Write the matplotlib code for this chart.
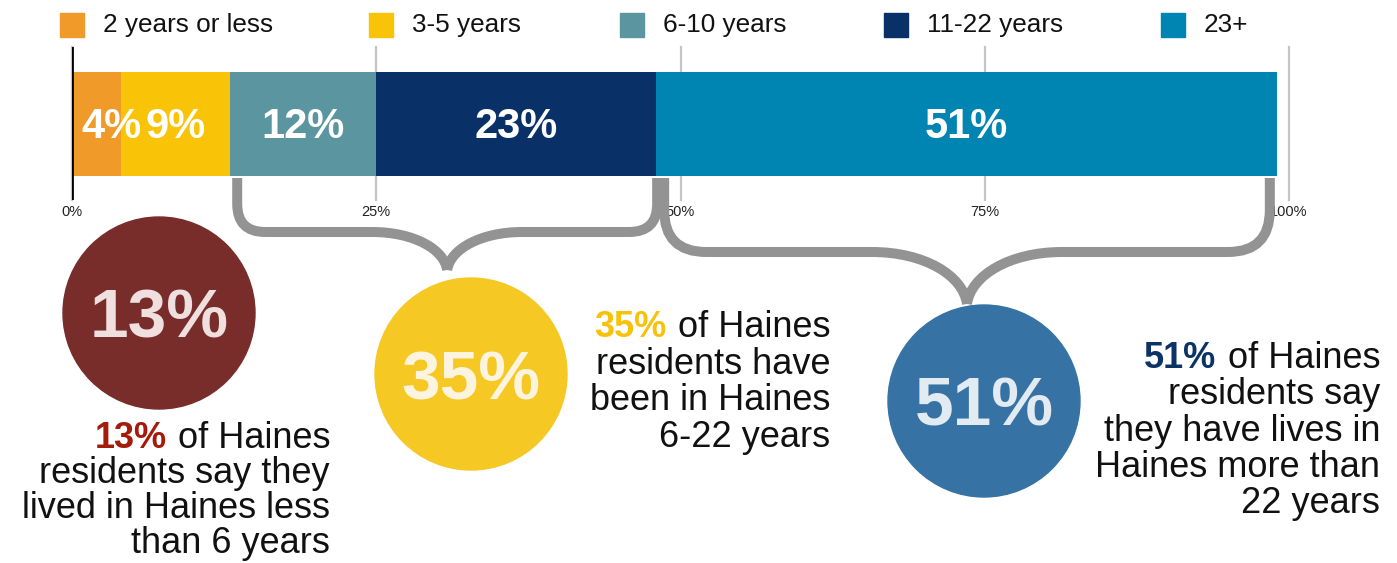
import matplotlib
matplotlib.use('Agg')
import matplotlib.pyplot as plt
from matplotlib.patches import Circle, Rectangle, PathPatch
from matplotlib.path import Path

# donnees
categories = ['2 years or less', '3-5 years', '6-10 years', '11-22 years', '23+']
values = [4, 9, 12, 23, 51]
colors = ['#ef9a29', '#f9c307', '#5b96a0', '#0a3068', '#0085b2']
tick_vals = [0, 25, 50, 75, 100]
tick_labels = ['0%', '25%', '50%', '75%', '100%']

# groupes (indices des segments) pour les cercles
groups = [(0, 2), (2, 4), (4, 5)]
circle_colors = ['#782d2a', '#f6c823', '#3673a4']
circle_text_colors = ['#efdfdf', '#fdf4e0', '#e2eaf2']
accent_colors = ['#a51b0b', '#f8c10a', '#0b3366']
descriptions = [
    ['of Haines', 'residents say they', 'lived in Haines less', 'than 6 years'],
    ['of Haines', 'residents have', 'been in Haines', '6-22 years'],
    ['of Haines', 'residents say', 'they have lives in', 'Haines more than', '22 years'],
]

W, H = 1397, 563
plt.rcParams['font.family'] = ['Liberation Sans', 'DejaVu Sans']

fig = plt.figure(figsize=(W / 100, H / 100), dpi=100)

# axe du graphique en barres (position en pixels)
ax = fig.add_axes([72 / W, (H - 200) / H, 1217 / W, 153 / H])
lefts = [sum(values[:i]) for i in range(len(values))]
ax.barh(0.497, values, left=lefts, height=0.68, color=colors, zorder=2)
for l, v in zip(lefts, values):
    if v < 5:
        # petit segment : texte cale a gauche
        ax.text(l + 0.75, 0.475, f'{v}%', ha='left', va='center', color='white',
                fontsize=30, fontweight='bold', zorder=3)
    else:
        ax.text(l + v / 2, 0.475, f'{v}%', ha='center', va='center', color='white',
                fontsize=30, fontweight='bold', zorder=3)
ax.axvline(0, color='black', lw=2, zorder=4)
ax.set_xlim(0, 100)
ax.set_ylim(0, 1)
ax.set_xticks(tick_vals)
ax.set_xticklabels(tick_labels)
ax.set_yticks([])
ax.grid(axis='x', color='#c4c4c4', lw=1.6)
for gl in ax.get_xgridlines():
    gl.set_clip_on(False)
ax.set_axisbelow(True)
ax.tick_params(axis='x', length=0, pad=3.5, labelsize=10.5, labelcolor='#222222')
for sp in ax.spines.values():
    sp.set_visible(False)
ax.patch.set_alpha(0)

# axe de superposition en pixels
ov = fig.add_axes([0, 0, 1, 1])
ov.set_xlim(0, W)
ov.set_ylim(H, 0)
ov.axis('off')
ov.patch.set_alpha(0)

# legende
leg_x = [60, 369, 620, 884, 1161]
for x, c, lab in zip(leg_x, colors, categories):
    ov.add_patch(Rectangle((x, 13), 24, 24, color=c))
    ov.text(x + 43, 25, lab, ha='left', va='center', fontsize=18.8, color='#111111')


def px(v):
    return ax.transData.transform((v, 0))[0]


def brace(x0, x1, top, band, tip, r, s):
    xm = (x0 + x1) / 2
    dy = tip - band
    verts = [(x0, top), (x0, band - r), (x0, band), (x0 + r, band), (xm - s, band),
             (xm - s * 0.45, band), (xm - s * 0.04, band + dy * 0.45), (xm, tip)]
    codes = [Path.MOVETO, Path.LINETO, Path.CURVE3, Path.CURVE3, Path.LINETO,
             Path.CURVE4, Path.CURVE4, Path.CURVE4]
    for side in (1, -1):
        vv = [(xm + side * (x - xm), y) for x, y in verts]
        ov.add_patch(PathPatch(Path(vv, codes), fill=False, edgecolor='#939393',
                               lw=7.2, capstyle='butt', joinstyle='round', zorder=5))


# accolades : segments 2-4 et 5
brace(px(13) + 7, px(48) + 1, 178, 232, 270, 28, 75)
brace(px(48) + 8, px(99) - 7, 178, 252, 304, 42, 95)

# cercles et textes
centers = [(159, 313), (471, 374), (984, 401)]
text_right = [330, 830, 1380]
first_base = [448, 337, 368]
line_gap = [35, 36.7, 36.3]
for i, (a, b) in enumerate(groups):
    pct = sum(values[a:b])
    cx, cy = centers[i]
    ov.add_patch(Circle((cx, cy), 96, color=circle_colors[i], zorder=3))
    ov.text(cx, cy + 7, f'{pct}%', ha='center', va='center', fontsize=50,
            fontweight='bold', color=circle_text_colors[i], zorder=4)
    lines = descriptions[i]
    for j, line in enumerate(lines):
        t = ov.text(text_right[i], first_base[i] + j * line_gap[i], line, ha='right',
                    va='baseline', fontsize=26, color='#111111')
        if j == 0:
            ov.annotate(f'{pct}%', xy=(0, 0), xycoords=t, xytext=(-8, 0),
                        textcoords='offset points', ha='right', va='bottom',
                        fontsize=26, fontweight='bold', color=accent_colors[i])

fig.savefig('out.png', dpi=100)
